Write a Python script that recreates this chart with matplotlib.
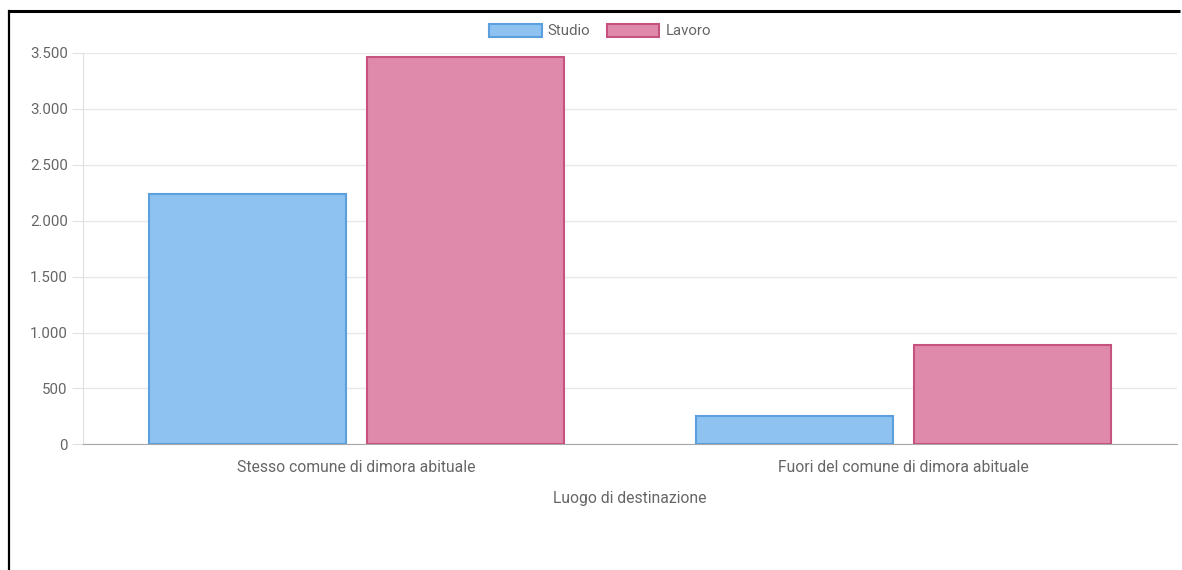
import matplotlib.pyplot as plt
from matplotlib.patches import Patch
from matplotlib.lines import Line2D
from matplotlib.ticker import FuncFormatter
import numpy as np

plt.rcParams['font.family'] = ['Roboto', 'DejaVu Sans']

categories = ['Stesso comune di dimora abituale', 'Fuori del comune di dimora abituale']
studio = [2240, 255]
lavoro = [3460, 888]
series_names = ['Studio', 'Lavoro']

fill_blue = '#8ec3f1'
edge_blue = '#5b9fdc'
fill_pink = '#e08aab'
edge_pink = '#c6527f'
text_col = '#666666'

fig = plt.figure(figsize=(11.82, 5.70), dpi=100)
ax = fig.add_axes([83 / 1182, 125.7 / 570, (1177 - 83) / 1182, (444.3 - 53) / 570])

x = np.arange(len(categories))
w = 0.36
ax.bar(x - 0.2, studio, w, color=fill_blue, edgecolor=edge_blue, linewidth=1.5, zorder=3)
ax.bar(x + 0.2, lavoro, w, color=fill_pink, edgecolor=edge_pink, linewidth=1.5, zorder=3)

ax.set_xlim(-0.5, 1.5)
ax.set_ylim(0, 3500)
ax.set_yticks(np.arange(0, 3501, 500))
ax.yaxis.set_major_formatter(FuncFormatter(lambda v, p: '{:,.0f}'.format(v).replace(',', '.')))
ax.set_xticks(x)
ax.set_xticklabels(categories)
ax.tick_params(axis='x', length=0, pad=11, labelsize=11.3, labelcolor=text_col)
ax.tick_params(axis='y', length=8, color='#e0e0e0', pad=3, labelsize=10.8, labelcolor=text_col)
ax.grid(axis='y', color='#e8e8e8', linewidth=1, zorder=0)

for s in ['top', 'right']:
    ax.spines[s].set_visible(False)
ax.spines['left'].set_color('#e0e0e0')
ax.spines['bottom'].set_color('#a8a8a8')

ax.set_xlabel('Luogo di destinazione', fontsize=11.3, color=text_col, labelpad=12)

handles = [Patch(facecolor=fill_blue, edgecolor=edge_blue, linewidth=1.5),
           Patch(facecolor=fill_pink, edgecolor=edge_pink, linewidth=1.5)]
fig.legend(handles, series_names, loc='center', bbox_to_anchor=(600 / 1182, 1 - 31 / 570),
           ncol=2, frameon=False, fontsize=10.8, labelcolor=text_col,
           handlelength=3.5, handleheight=1.0, handletextpad=0.4, columnspacing=1.1)

# page border
fig.add_artist(Line2D([8 / 1182, 1180 / 1182], [1 - 11 / 570, 1 - 11 / 570], color='black',
                      linewidth=2.2, solid_capstyle='butt'))
fig.add_artist(Line2D([8.5 / 1182, 8.5 / 1182], [0, 1 - 11 / 570], color='black', linewidth=1.6))

fig.savefig('out.png', dpi=100)
